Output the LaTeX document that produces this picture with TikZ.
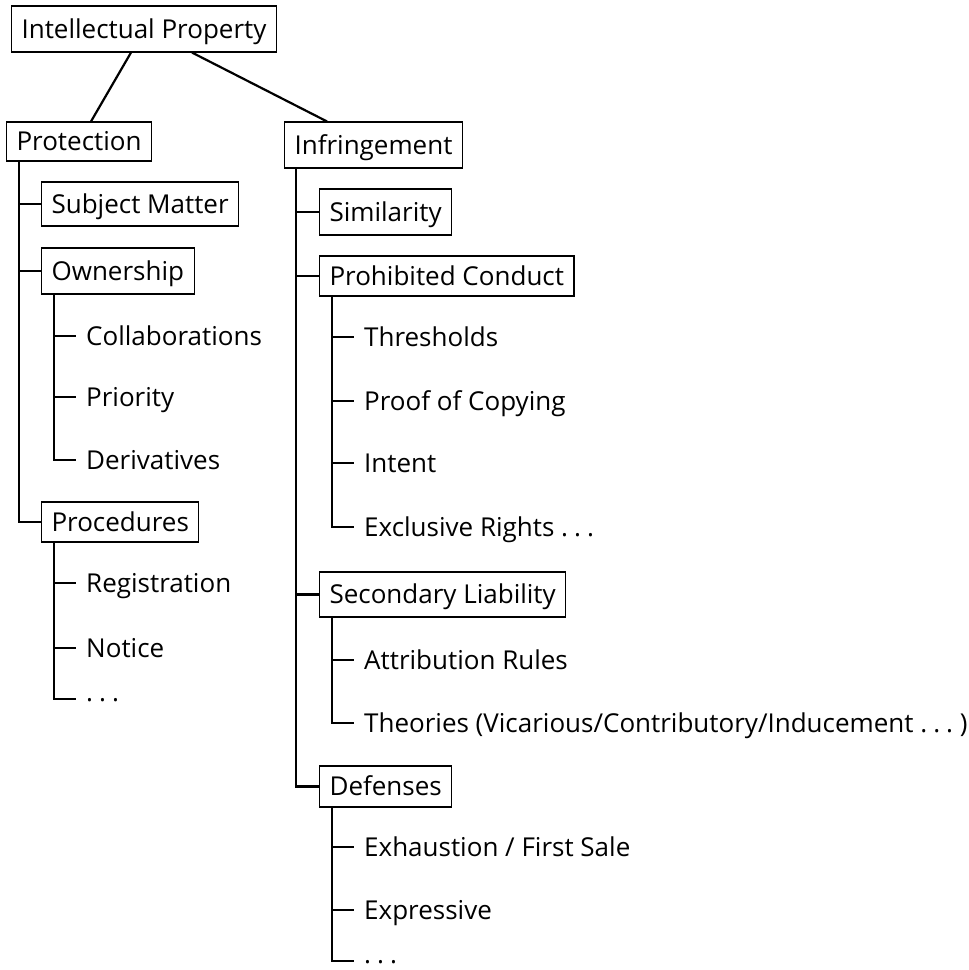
\documentclass[tikz,border=0pt]{standalone}
\usepackage{fontspec}
\setmainfont{Open Sans}
\newcommand\mydots{.\kern6pt.\kern6pt.}
\begin{document}
\begin{tikzpicture}[x=1pt,y=-1pt,
  every node/.style={font=\fontsize{26pt}{30pt}\selectfont, text height=18pt, text depth=0pt},
  box/.style={draw, line width=1.1pt, anchor=west, inner xsep=10pt, inner ysep=0pt},
  leaf/.style={anchor=west, inner xsep=10pt, inner ysep=0pt},
  dotleaf/.style={anchor=west, inner xsep=10pt, inner ysep=0pt, text height=4pt},
  conn/.style={line width=2.2pt}]
\useasboundingbox (0,0) rectangle (969,970);

% root
\node[box, minimum height=46pt] (ip) at (11,29) {Intellectual Property};

% Protection side
\node[box, minimum height=39pt] (prot) at (6,141.5) {Protection};
\node[box, minimum height=44pt] (subj) at (41,204) {Subject Matter};
\node[box, minimum height=46pt] (own) at (41,271) {Ownership};
\node[leaf] (collab) at (76,336) {Collaborations};
\node[leaf] (prio) at (76,397) {Priority};
\node[leaf] (deriv) at (76,460) {Derivatives};
\node[box, minimum height=40pt] (proc) at (41,522) {Procedures};
\node[leaf] (reg) at (76,583) {Registration};
\node[leaf] (notice) at (76,648) {Notice};
\node[dotleaf] (pdots) at (76,699) {\mydots};

% Infringement side
\node[box, minimum height=46pt] (infr) at (284,145) {Infringement};
\node[box, minimum height=46pt] (sim) at (319,212) {Similarity};
\node[box, minimum height=40pt] (proh) at (319,276) {Prohibited Conduct};
\node[leaf] (thr) at (354,337) {Thresholds};
\node[leaf] (proof) at (354,401) {Proof of Copying};
\node[leaf] (intent) at (354,463) {Intent};
\node[leaf] (excl) at (354,527) {Exclusive Rights \mydots};
\node[box, minimum height=45pt] (sec) at (319,594.5) {Secondary Liability};
\node[leaf] (attr) at (354,660) {Attribution Rules};
\node[leaf] (theo) at (354,723) {Theories (Vicarious/Contributory/Inducement \mydots\ )};
\node[box, minimum height=41pt] (def) at (319,786.5) {Defenses};
\node[leaf] (exh) at (354,847) {Exhaustion / First Sale};
\node[leaf] (expr) at (354,910) {Expressive};
\node[dotleaf] (ddots) at (354,961) {\mydots};

% root connectors
\draw[conn] ([xshift=120pt]ip.south west) -- ([xshift=85pt]prot.north west);
\draw[conn] ([xshift=181pt]ip.south west) -- ([xshift=43pt]infr.north west);

% Protection trunk
\foreach \c in {subj,own,proc}
  \draw[conn] ([xshift=13pt]prot.south west) |- (\c.west);
\foreach \c in {collab,prio,deriv}
  \draw[conn] ([xshift=13pt]own.south west) |- (\c.west);
\foreach \c in {reg,notice,pdots}
  \draw[conn] ([xshift=13pt]proc.south west) |- (\c.west);

% Infringement trunk
\foreach \c in {sim,proh,sec,def}
  \draw[conn] ([xshift=12pt]infr.south west) |- (\c.west);
\foreach \c in {thr,proof,intent,excl}
  \draw[conn] ([xshift=13pt]proh.south west) |- (\c.west);
\foreach \c in {attr,theo}
  \draw[conn] ([xshift=13pt]sec.south west) |- (\c.west);
\foreach \c in {exh,expr,ddots}
  \draw[conn] ([xshift=13pt]def.south west) |- (\c.west);
\end{tikzpicture}
\end{document}
